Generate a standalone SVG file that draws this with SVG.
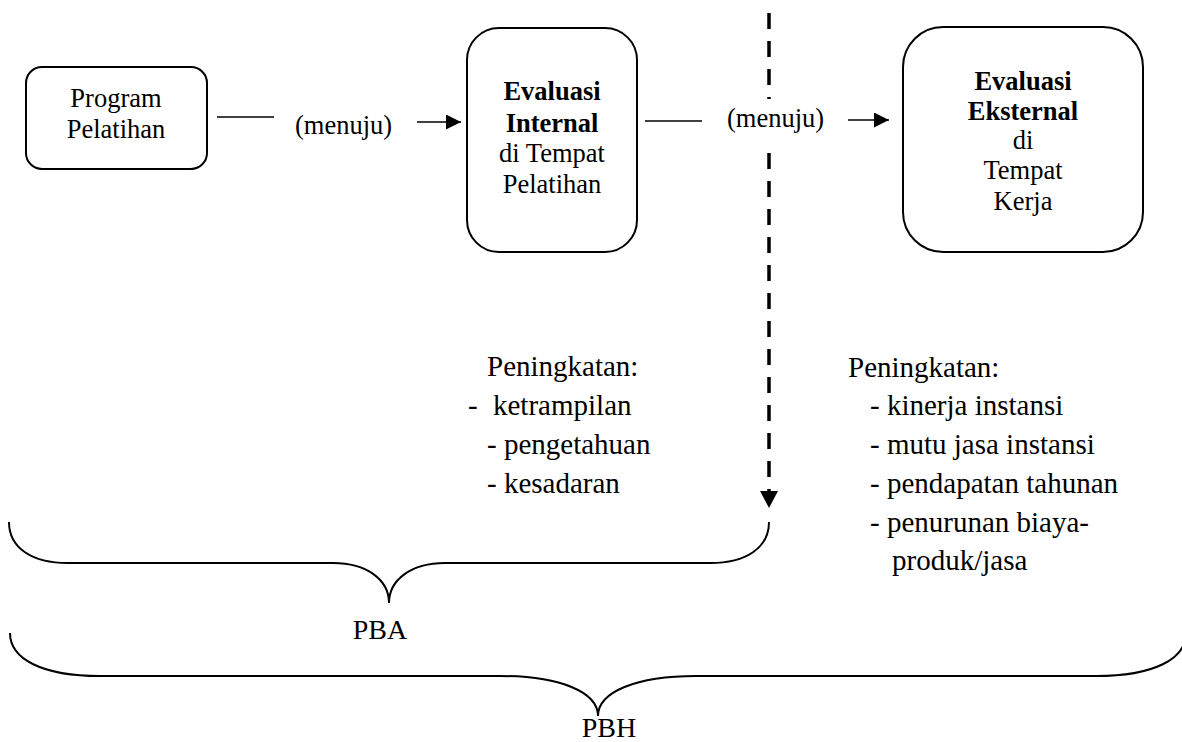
<svg xmlns="http://www.w3.org/2000/svg" width="1182" height="742" viewBox="0 0 1182 742">
<defs>
<style>
text{font-family:"Liberation Serif","Times New Roman",serif;fill:#000}
.t{font-size:26.5px;text-anchor:middle}
.b{font-weight:bold}
.l{font-size:29px}
.box{fill:#fff;stroke:#000;stroke-width:2}
.ln{stroke:#000;stroke-width:1.6;fill:none}
.br{stroke:#000;stroke-width:2;fill:none}
.dash{stroke:#000;stroke-width:3.5;stroke-dasharray:16 12;fill:none}
</style>
<marker id="ah" viewBox="0 0 10 10" refX="10" refY="5" markerWidth="15" markerHeight="15" markerUnits="userSpaceOnUse" orient="auto">
<path d="M0,0 L10,5 L0,10 z" fill="#000"/>
</marker>
</defs>
<rect width="1182" height="742" fill="#fff"/>

<g id="connectors">
<line class="ln" x1="217" y1="117" x2="274" y2="117"/>
<line class="ln" x1="417" y1="122" x2="461" y2="122" marker-end="url(#ah)"/>
<line class="ln" x1="645" y1="121" x2="702" y2="121"/>
<line class="ln" x1="848" y1="120" x2="889" y2="120" marker-end="url(#ah)"/>
<line class="dash" x1="769" y1="13" x2="769" y2="491"/>
<path d="M760,491 L778,491 L769,508 z" fill="#000"/>
</g>

<g id="label-menuju-1">
<text x="295" y="134" style="font-size:26.5px">(menuju)</text>
</g>
<g id="label-menuju-2">
<rect x="722" y="99" width="106" height="52" fill="#fff"/>
<text x="727" y="127" style="font-size:26.5px">(menuju)</text>
</g>

<g id="node-program">
<rect class="box" x="26" y="67" width="181" height="102" rx="16"/>
<text class="t" x="116" y="107">Program</text>
<text class="t" x="116" y="138">Pelatihan</text>
</g>

<g id="node-internal">
<rect class="box" x="467" y="28" width="170" height="224" rx="32"/>
<text class="t b" x="552" y="100">Evaluasi</text>
<text class="t b" x="552" y="132">Internal</text>
<text class="t" x="552" y="162">di Tempat</text>
<text class="t" x="552" y="193">Pelatihan</text>
</g>

<g id="node-eksternal">
<rect class="box" x="903" y="27" width="240" height="225" rx="40"/>
<text class="t b" x="1023" y="90">Evaluasi</text>
<text class="t b" x="1023" y="120">Eksternal</text>
<text class="t" x="1023" y="149">di</text>
<text class="t" x="1023" y="179">Tempat</text>
<text class="t" x="1023" y="210">Kerja</text>
</g>

<g id="list-internal">
<text class="l" x="487" y="376">Peningkatan:</text>
<text class="l" x="468" y="415">-</text>
<text class="l" x="493" y="415">ketrampilan</text>
<text class="l" x="487" y="454">- pengetahuan</text>
<text class="l" x="487" y="493">- kesadaran</text>
</g>

<g id="list-eksternal">
<text class="l" x="848" y="377">Peningkatan:</text>
<text class="l" x="870" y="415">- kinerja instansi</text>
<text class="l" x="870" y="454">- mutu jasa instansi</text>
<text class="l" x="870" y="493">- pendapatan tahunan</text>
<text class="l" x="870" y="532">- penurunan biaya-</text>
<text class="l" x="892" y="570">produk/jasa</text>
</g>

<g id="brace-pba">
<path class="br" d="M9,522 C9,548 32,563 68,563 L333,563 C367,563 389,580 389,603 C389,580 411,563 445,563 L710,563 C746,563 769,548 769,522"/>
<text x="380" y="639" style="font-size:28px;text-anchor:middle">PBA</text>
</g>

<g id="brace-pbh">
<path class="br" d="M10,633 C10,659 42,676 100,676 L500,676 C560,676 598,692 598,716 C598,692 636,676 696,676 L1096,676 C1154,676 1186,659 1186,633"/>
<text x="609" y="737" style="font-size:28px;text-anchor:middle">PBH</text>
</g>
</svg>
